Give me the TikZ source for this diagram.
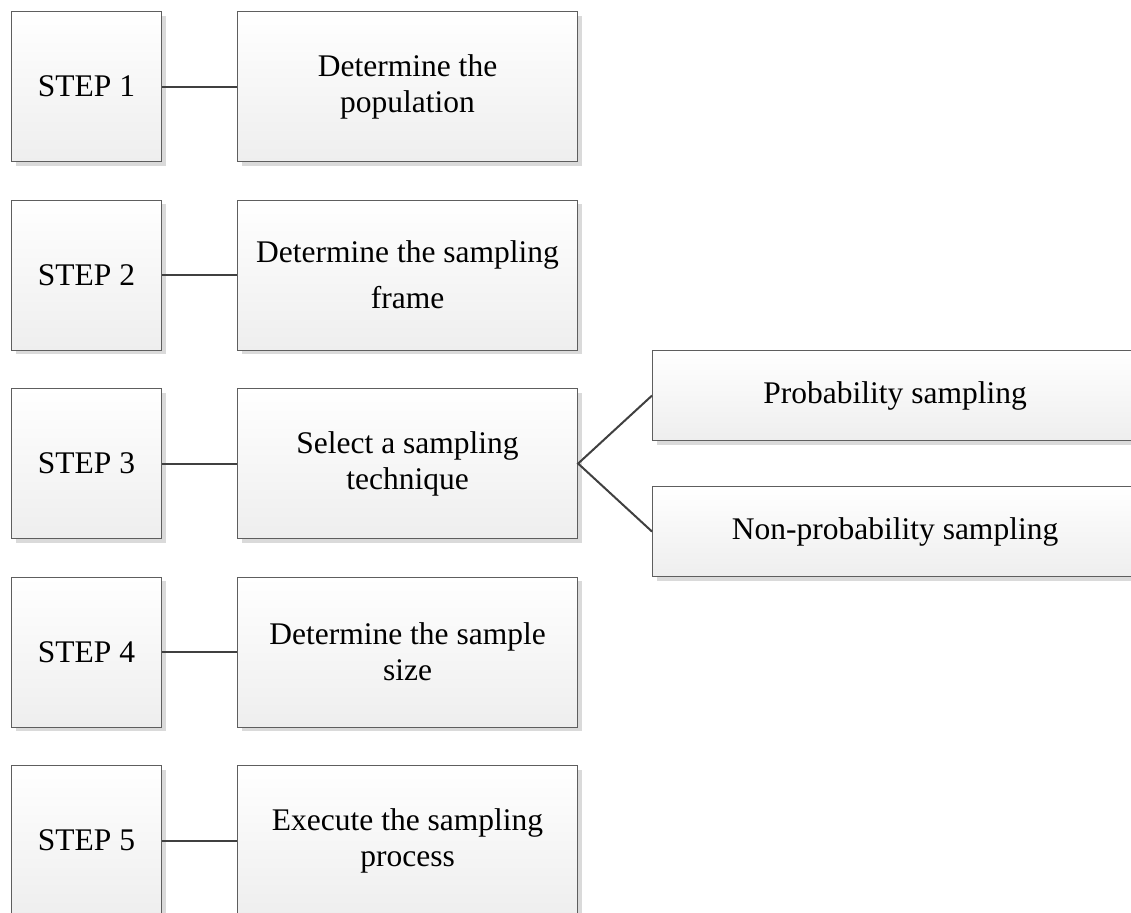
\documentclass[tikz,border=0pt]{standalone}
\usepackage{fontspec}
\setmainfont{Liberation Serif}
\usetikzlibrary{shadows}
\definecolor{boxline}{HTML}{5E5E5E}
\definecolor{linkline}{HTML}{404040}
\definecolor{boxbottom}{HTML}{EEEEEE}
\definecolor{shadowgray}{HTML}{DADADA}
\tikzset{
  card/.style={draw=boxline, line width=1.1pt, rectangle, inner sep=0pt,
    anchor=north west, align=center,
    top color=white, bottom color=boxbottom,
    drop shadow={shadow xshift=4pt, shadow yshift=-4pt, fill=shadowgray, opacity=1},
    font=\fontsize{31.5}{36}\selectfont},
  stepbox/.style={card, minimum width=150pt, minimum height=150pt},
  taskbox/.style={card, minimum width=340pt, minimum height=150pt},
  kindbox/.style={card, minimum width=485pt, minimum height=90pt},
  link/.style={draw=linkline, line width=2pt}
}
\begin{document}
\begin{tikzpicture}[x=1pt,y=-1pt]
\useasboundingbox (0,0) rectangle (1131,912);
\clip (0,0) rectangle (1131,912);

% left column: steps
\node[stepbox] (s1) at (11,11)    {STEP 1};
\node[stepbox] (s2) at (11,199.5) {STEP 2};
\node[stepbox] (s3) at (11,388)   {STEP 3};
\node[stepbox] (s4) at (11,576.5) {STEP 4};
\node[stepbox] (s5) at (11,765)   {STEP 5};

% middle column: tasks
\node[taskbox] (t1) at (237,11)    {Determine the\\population};
\node[taskbox, font=\fontsize{31.5}{46}\selectfont] (t2) at (237,199.5) {Determine the sampling\\frame};
\node[taskbox] (t3) at (237,388)   {Select a sampling\\technique};
\node[taskbox] (t4) at (237,576.5) {Determine the sample\\size};
\node[taskbox] (t5) at (237,765)   {Execute the sampling\\process};

% right column: kinds of sampling
\node[kindbox] (p)  at (652,350) {Probability sampling};
\node[kindbox] (np) at (652,486) {Non-probability sampling};

% connectors
\foreach \i in {1,...,5} {
  \draw[link] (s\i.east) -- (t\i.west);
}
\draw[link, line join=miter] (p.west) -- (t3.east) -- (np.west);
\end{tikzpicture}
\end{document}
